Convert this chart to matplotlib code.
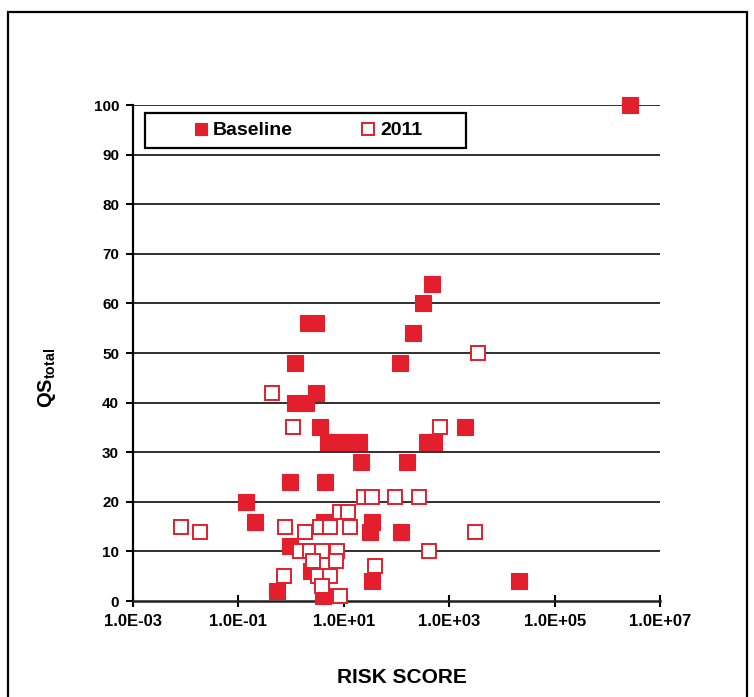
import matplotlib
matplotlib.use("Agg")
import matplotlib.pyplot as plt
from matplotlib.patches import Rectangle
from matplotlib.ticker import FixedLocator, FuncFormatter, NullLocator

plt.rcParams["font.family"] = "Liberation Sans"
plt.rcParams["font.weight"] = "bold"
plt.rcParams["axes.labelweight"] = "bold"
plt.rcParams["mathtext.fontset"] = "custom"
plt.rcParams["mathtext.bf"] = "Liberation Sans:bold"
plt.rcParams["mathtext.rm"] = "Liberation Sans:bold"

RED = "#e31e2d"

# baseline survey
baseline_risk = [2.7e6, 470, 320, 205, 115, 2.1, 3.0, 1.2, 3.0, 1.2, 1.9, 3.5,
                 5.0, 7.8, 14, 19.5, 21, 158, 380, 515, 2000, 0.95, 4.4, 0.14,
                 0.21, 0.95, 0.54, 2.4, 4.0, 4.2, 34, 32, 122, 35, 21000]
baseline_qs = [100, 64, 60, 54, 48, 56, 56, 48, 42, 40, 40, 35,
               32, 32, 32, 32, 28, 28, 32, 32, 35, 24, 24, 20,
               16, 11, 2, 6, 1, 16, 16, 14, 14, 4, 4]

# 2011 survey
y2011_risk = [3500, 670, 0.44, 1.1, 0.0082, 0.019, 3100, 415, 39, 268, 94, 24,
              34, 8.5, 12, 13, 0.76, 1.8, 3.5, 5.5, 1.5, 2.3, 3.9, 7.4,
              0.73, 2.6, 3.2, 5.5, 3.9, 8.5, 7.1]
y2011_qs = [50, 35, 42, 35, 15, 14, 14, 10, 7, 21, 21, 21,
            21, 18, 18, 15, 15, 14, 15, 15, 10, 10, 10, 10,
            5, 8, 5, 5, 3, 1, 8]

x_ticks = [1e-3, 1e-1, 1e1, 1e3, 1e5, 1e7]
y_ticks = list(range(0, 101, 10))

fig = plt.figure(figsize=(7.54, 6.97), dpi=100)

# outer frame around the whole chart
fig.patches.append(Rectangle((0.0106, -0.1), 0.98, 1.0828, transform=fig.transFigure,
                             fill=False, edgecolor="black", linewidth=1.6))

ax = fig.add_axes([0.1764, 0.1377, 0.699, 0.7116])

for y in y_ticks[1:]:
    ax.axhline(y, color="#303030", linewidth=1.4, zorder=1)

ax.plot(baseline_risk, baseline_qs, linestyle="none", marker="s", markersize=11.5,
        markerfacecolor=RED, markeredgecolor=RED, markeredgewidth=0.8,
        label="Baseline", clip_on=False, zorder=3)
ax.plot(y2011_risk, y2011_qs, linestyle="none", marker="s", markersize=10.5,
        markerfacecolor="white", markeredgecolor=RED, markeredgewidth=1.4,
        label="2011", clip_on=False, zorder=4)

ax.set_xscale("log")
ax.set_xlim(1e-3, 1e7)
ax.set_ylim(0, 100)
ax.xaxis.set_major_locator(FixedLocator(x_ticks))
ax.xaxis.set_minor_locator(NullLocator())
ax.xaxis.set_major_formatter(FuncFormatter(lambda v, p: f"{v:.1E}"))
ax.set_yticks(y_ticks)

for side in ["top", "right"]:
    ax.spines[side].set_visible(False)
ax.spines["left"].set_linewidth(1.6)
ax.spines["bottom"].set_linewidth(1.8)
ax.spines["bottom"].set_color("#202020")

ax.tick_params(axis="x", direction="inout", length=9, width=1.5, pad=5, labelsize=12)
ax.tick_params(axis="y", direction="out", length=5, width=1.4, pad=5, labelsize=11)

ax.set_xlabel("RISK SCORE", fontsize=15)
ax.xaxis.set_label_coords(0.511, -0.135)
ax.set_ylabel(r"$\mathbf{QS_{total}}$", fontsize=14.5)
ax.yaxis.set_label_coords(-0.142, 0.45)

# legend box
ax.add_patch(Rectangle((0.0228, 0.913), 0.609, 0.071, transform=ax.transAxes,
                       fill=False, edgecolor="black", linewidth=1.6, zorder=5))
ax.legend(loc="center", bbox_to_anchor=(0.333, 0.9485), ncol=2, frameon=False,
          fontsize=14, markerscale=0.8, handlelength=0.6, handletextpad=0.3,
          columnspacing=3.6)

fig.savefig("out.png", dpi=100)
